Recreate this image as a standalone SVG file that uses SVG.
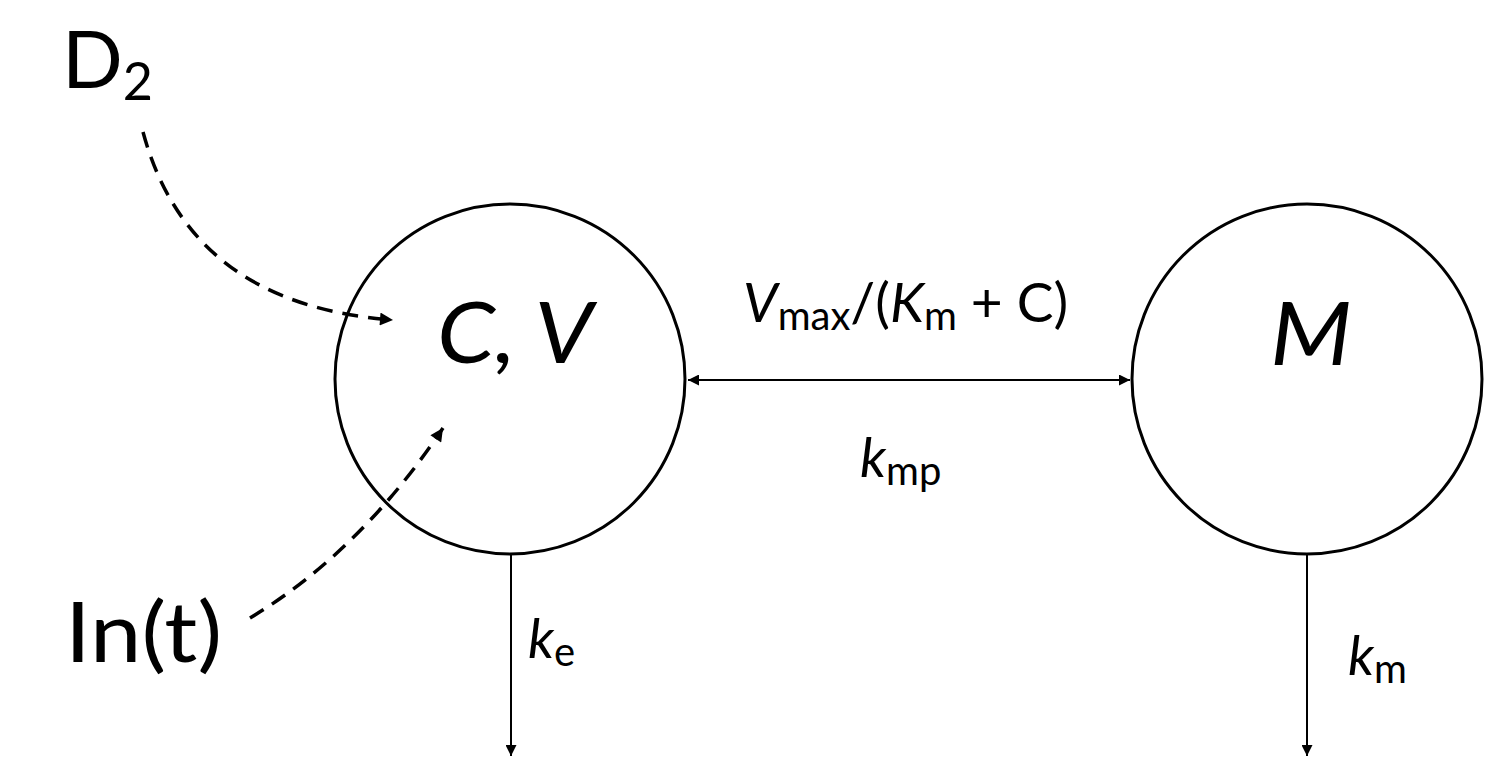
<svg xmlns="http://www.w3.org/2000/svg" width="1502" height="767" viewBox="0 0 1502 767">
<defs>
<style>
text{font-family:Lato,"Open Sans","Liberation Sans",sans-serif;fill:#000}
.it{font-style:italic}
.node{fill:#fff;stroke:#000;stroke-width:3}
.solid{fill:none;stroke:#000;stroke-width:2}
.dash{fill:none;stroke:#000;stroke-width:3.5;stroke-dasharray:16 10}
</style>
<marker id="ah" viewBox="0 0 10 10" refX="10" refY="5" markerWidth="11" markerHeight="11" markerUnits="userSpaceOnUse" orient="auto-start-reverse">
<path d="M0,0 L10,5 L0,10 Z" fill="#000"/>
</marker>
<marker id="ahd" viewBox="0 0 10 10" refX="10" refY="5" markerWidth="15" markerHeight="13" markerUnits="userSpaceOnUse" orient="auto">
<path d="M0,0 L10,5 L0,10 Z" fill="#000"/>
</marker>
</defs>
<rect width="1502" height="767" fill="#fff"/>
<g id="node-CV">
<circle class="node" cx="510" cy="379" r="175"/>
<text class="it" x="437" y="363" font-size="85" textLength="156" lengthAdjust="spacingAndGlyphs">C, V</text>
</g>
<g id="node-M">
<circle class="node" cx="1307" cy="379" r="175"/>
<text class="it" x="1270" y="365" font-size="88" textLength="82" lengthAdjust="spacingAndGlyphs">M</text>
</g>
<g id="label-D2">
<text x="62" y="88" font-size="80">D<tspan font-size="52" dy="12">2</tspan></text>
</g>
<g id="label-In">
<text x="65" y="662" font-size="84" textLength="157" lengthAdjust="spacingAndGlyphs">In(t)</text>
</g>
<g id="connectors">
<path class="dash" d="M143,132 C175,250 260,310 393,320" marker-end="url(#ahd)"/>
<path class="dash" d="M250,618 Q360,552 443,428" marker-end="url(#ahd)"/>
<line class="solid" x1="688" y1="380" x2="1130" y2="380" marker-start="url(#ah)" marker-end="url(#ah)"/>
<line class="solid" x1="511" y1="554" x2="511" y2="756" marker-end="url(#ah)"/>
<line class="solid" x1="1307" y1="554" x2="1307" y2="756" marker-end="url(#ah)"/>
</g>
<g id="edge-labels">
<text x="743" y="322" font-size="55"><tspan class="it">V</tspan><tspan font-size="40" dy="8">max</tspan><tspan dy="-8">/(</tspan><tspan class="it">K</tspan><tspan font-size="40" dy="8">m</tspan><tspan dy="-8"> + C)</tspan></text>
<text x="860" y="477" font-size="55"><tspan class="it">k</tspan><tspan font-size="40" dy="8">mp</tspan></text>
<text x="528" y="658" font-size="55"><tspan class="it">k</tspan><tspan font-size="40" dy="8">e</tspan></text>
<text x="1348" y="675" font-size="55"><tspan class="it">k</tspan><tspan font-size="40" dy="8">m</tspan></text>
</g>
</svg>
